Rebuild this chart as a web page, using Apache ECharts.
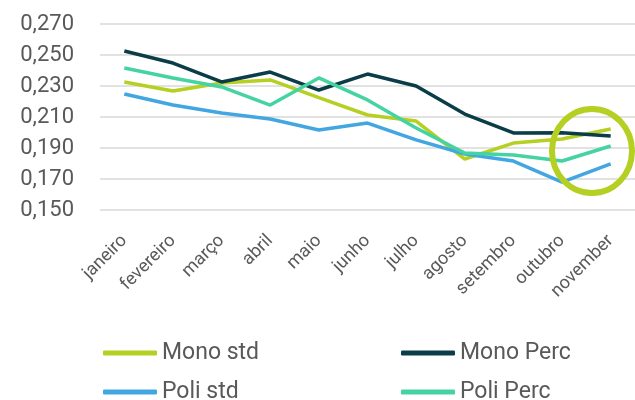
<!DOCTYPE html>
<html>
<head>
<meta charset="utf-8">
<script src="https://cdn.jsdelivr.net/npm/echarts@6/dist/echarts.min.js"></script>
<style>
html, body { margin: 0; padding: 0; background: #fff; }
#chart { width: 635px; height: 400px; }
</style>
</head>
<body>
<div id="chart"></div>
<script>
var months = ['janeiro', 'fevereiro', 'março', 'abril', 'maio', 'junho', 'julho', 'agosto', 'setembro', 'outubro', 'november'];
var monoStd = [0.2326, 0.2268, 0.2320, 0.2339, 0.2225, 0.2113, 0.2074, 0.1829, 0.1932, 0.1958, 0.2023];
var monoPerc = [0.2526, 0.2448, 0.2326, 0.2390, 0.2274, 0.2377, 0.2300, 0.2119, 0.1997, 0.1999, 0.1977];
var poliStd = [0.2248, 0.2177, 0.2126, 0.2087, 0.2016, 0.2061, 0.1952, 0.1861, 0.1816, 0.1680, 0.1797];
var poliPerc = [0.2416, 0.2352, 0.2294, 0.2177, 0.2352, 0.2210, 0.2029, 0.1868, 0.1855, 0.1816, 0.1913];

var chart = echarts.init(document.getElementById('chart'));

function line(name, data, color) {
    return {
        name: name,
        type: 'line',
        data: data,
        symbol: 'none',
        lineStyle: { color: color, width: 3.5 },
        itemStyle: { color: color }
    };
}

// one legend per item so the 2x2 layout stays put
function legendItem(name, left, top) {
    return {
        left: left,
        top: top,
        padding: 0,
        itemWidth: 54,
        itemHeight: 5,
        itemGap: 0,
        icon: 'roundRect',
        textStyle: { color: '#595959', fontSize: 23, lineHeight: 26, fontFamily: 'Roboto' },
        data: [name]
    };
}

chart.setOption({
    animation: false,
    textStyle: { fontFamily: 'Roboto' },
    grid: { left: 100, right: 0, top: 24, bottom: 190 },
    legend: [
        legendItem('Mono std', 103, 340),
        legendItem('Mono Perc', 401, 340),
        legendItem('Poli std', 103, 379),
        legendItem('Poli Perc', 401, 379)
    ],
    xAxis: {
        type: 'category',
        data: months,
        boundaryGap: true,
        axisLine: { show: false },
        axisTick: { show: false },
        axisLabel: { rotate: 45, color: '#595959', fontSize: 18, margin: 28, interval: 0 }
    },
    yAxis: {
        type: 'value',
        min: 0.15,
        max: 0.27,
        interval: 0.02,
        axisLine: { show: false },
        axisTick: { show: false },
        splitLine: { lineStyle: { color: '#d9d9d9', width: 1.5 } },
        axisLabel: {
            color: '#595959',
            fontSize: 22,
            margin: 26,
            formatter: function (v) { return v.toFixed(3).replace('.', ','); }
        }
    },
    series: [
        line('Mono std', monoStd, '#b5cf22'),
        line('Mono Perc', monoPerc, '#0a3d48'),
        line('Poli std', poliStd, '#42a7e1'),
        line('Poli Perc', poliPerc, '#45d3a1')
    ],
    graphic: [{
        type: 'ellipse',
        shape: { cx: 592, cy: 151, rx: 40, ry: 42 },
        style: { fill: 'none', stroke: '#b5cf22', lineWidth: 6 },
        z: 100
    }]
});
</script>
</body>
</html>
